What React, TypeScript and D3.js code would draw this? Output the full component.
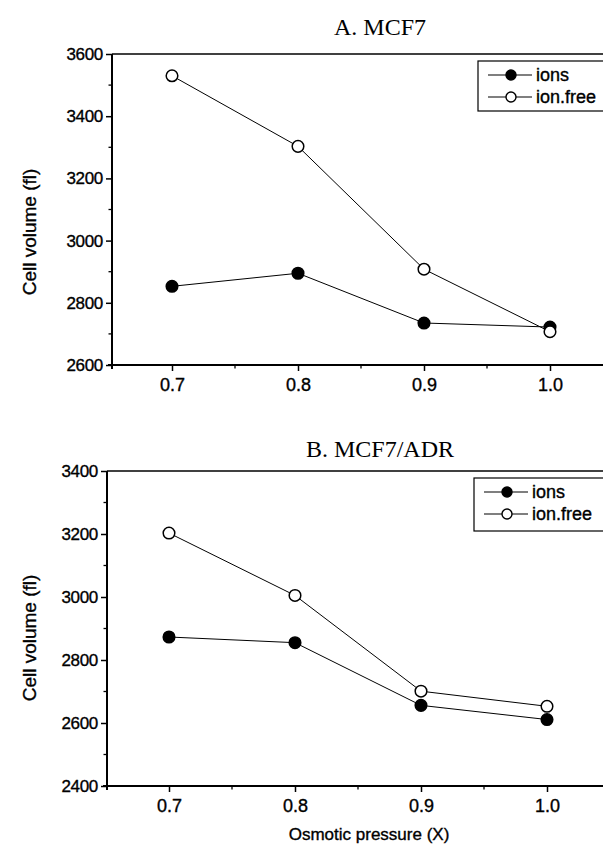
import React, { useRef, useEffect } from 'react'
import * as d3 from 'd3'

// values
const osmotic = [0.7, 0.8, 0.9, 1.0]
const xTicks = [0.7, 0.8, 0.9, 1.0]
const xMinor = [0.65, 0.75, 0.85, 0.95, 1.05]

const mcf7Ions = [2853, 2895, 2735, 2722]
const mcf7IonFree = [3530, 3303, 2908, 2707]
const mcf7YTicks = [2600, 2800, 3000, 3200, 3400, 3600]

const adrIons = [2873, 2855, 2656, 2611]
const adrIonFree = [3203, 3005, 2701, 2653]
const adrYTicks = [2400, 2600, 2800, 3000, 3200, 3400]

const seriesNames = ['ions', 'ion.free']

const W = 603
const H = 849
const sans = '"Liberation Sans", Arial, sans-serif'
const serif = '"Liberation Serif", "Times New Roman", serif'

type PanelCfg = {
  title: string
  ions: number[]
  ionFree: number[]
  yTicks: number[]
  left: number
  top: number
  bottom: number
  x07: number
  x10: number
  titleY: number
  ylabelY: number
  legend: { x: number; y: number; h: number }
  xLabel: boolean
}

const panels: PanelCfg[] = [
  {
    title: 'A. MCF7', ions: mcf7Ions, ionFree: mcf7IonFree, yTicks: mcf7YTicks,
    left: 112, top: 54, bottom: 365, x07: 172, x10: 550, titleY: 35, ylabelY: 232,
    legend: { x: 478, y: 61, h: 50 }, xLabel: false,
  },
  {
    title: 'B. MCF7/ADR', ions: adrIons, ionFree: adrIonFree, yTicks: adrYTicks,
    left: 107, top: 471, bottom: 786, x07: 169, x10: 547, titleY: 457, ylabelY: 638,
    legend: { x: 474, y: 478, h: 53 }, xLabel: true,
  },
]

// scanned text looks heavy: add a thin outline
const heavy = (sel: d3.Selection<any, any, any, any>) =>
  sel.attr('fill', '#000').attr('stroke', '#000').attr('stroke-width', 0.35)

const drawPanel = (svg: d3.Selection<SVGSVGElement, unknown, null, undefined>, p: PanelCfg) => {
  const g = svg.append('g')
  const x = d3.scaleLinear().domain([0.7, 1.0]).range([p.x07, p.x10])
  const yMin = p.yTicks[0]
  const yMax = p.yTicks[p.yTicks.length - 1]
  const y = d3.scaleLinear().domain([yMin, yMax]).range([p.bottom, p.top])
  const right = W + 20

  // frame top
  g.append('line').attr('x1', p.left).attr('x2', right).attr('y1', p.top).attr('y2', p.top)
    .attr('stroke', '#000').attr('stroke-width', 1.4)

  // x axis
  const xAxis = d3.axisBottom(x).tickValues(xTicks).tickSize(6).tickFormat(d3.format('.1f'))
  const xg = g.append('g').attr('transform', `translate(0,${p.bottom})`).call(xAxis)
  xg.select('.domain').remove()
  xg.selectAll('line').attr('stroke-width', 1.5)
  heavy(xg.selectAll('text').attr('font-family', sans).attr('font-size', 18).attr('dy', '0.95em'))
  g.append('g').attr('transform', `translate(0,${p.bottom})`)
    .selectAll('line').data(xMinor.filter(v => x(v) > p.left && x(v) < W)).enter().append('line')
    .attr('x1', d => x(d)).attr('x2', d => x(d)).attr('y1', 0).attr('y2', 3.5)
    .attr('stroke', '#000').attr('stroke-width', 1.3)
  g.append('line').attr('x1', p.left - 4).attr('x2', right).attr('y1', p.bottom).attr('y2', p.bottom)
    .attr('stroke', '#000').attr('stroke-width', 2)

  // y axis
  const yAxis = d3.axisLeft(y).tickValues(p.yTicks).tickSize(6).tickFormat(d3.format('d'))
  const yg = g.append('g').attr('transform', `translate(${p.left},0)`).call(yAxis)
  yg.select('.domain').remove()
  yg.selectAll('line').attr('stroke-width', 1.5)
  heavy(yg.selectAll('text').attr('font-family', sans).attr('font-size', 17).attr('x', -9)
    .attr('letter-spacing', -0.3))
  const minorY = d3.range(yMin + 100, yMax, 200)
  g.append('g').selectAll('line').data(minorY).enter().append('line')
    .attr('x1', p.left - 3.5).attr('x2', p.left).attr('y1', d => y(d)).attr('y2', d => y(d))
    .attr('stroke', '#000').attr('stroke-width', 1.3)
  g.append('line').attr('x1', p.left).attr('x2', p.left).attr('y1', p.top).attr('y2', p.bottom + 4)
    .attr('stroke', '#000').attr('stroke-width', 2)

  // title
  g.append('text').attr('x', 380).attr('y', p.titleY).attr('text-anchor', 'middle')
    .attr('font-family', serif).attr('font-size', 24).attr('fill', '#000').text(p.title)

  // y label
  heavy(g.append('text').attr('transform', `translate(36,${p.ylabelY}) rotate(-90)`)
    .attr('text-anchor', 'middle').attr('font-family', sans).attr('font-size', 19)
    .text('Cell volume (fl)'))

  if (p.xLabel) {
    heavy(g.append('text').attr('x', 369).attr('y', 840).attr('text-anchor', 'middle')
      .attr('font-family', sans).attr('font-size', 17).text('Osmotic pressure (X)'))
  }

  // series
  const line = d3.line<number>().x((_, i) => x(osmotic[i])).y(d => y(d)).curve(d3.curveLinear)
  const series = [p.ions, p.ionFree]
  series.forEach(vals => {
    g.append('path').datum(vals).attr('fill', 'none').attr('stroke', '#000').attr('stroke-width', 1)
      .attr('d', line)
  })
  series.forEach((vals, si) => {
    g.append('g').selectAll('circle').data(vals).enter().append('circle')
      .attr('cx', (_, i) => x(osmotic[i])).attr('cy', d => y(d)).attr('r', 5.8)
      .attr('fill', si === 0 ? '#000' : '#fff').attr('stroke', '#000').attr('stroke-width', 1.5)
  })

  // legend
  const L = p.legend
  g.append('rect').attr('x', L.x).attr('y', L.y).attr('width', 200).attr('height', L.h)
    .attr('fill', '#fff').attr('stroke', '#000').attr('stroke-width', 1.2)
  seriesNames.forEach((name, i) => {
    const ry = L.y + 14 + i * 22
    const lx = L.x + 10
    g.append('line').attr('x1', lx).attr('x2', lx + 44).attr('y1', ry).attr('y2', ry)
      .attr('stroke', '#000').attr('stroke-width', 1.2)
    g.append('circle').attr('cx', lx + 23).attr('cy', ry).attr('r', 5)
      .attr('fill', i === 0 ? '#000' : '#fff').attr('stroke', '#000').attr('stroke-width', 1.4)
    heavy(g.append('text').attr('x', lx + 48).attr('y', ry).attr('dy', '0.35em')
      .attr('font-family', sans).attr('font-size', 18).text(name))
  })
}

const App = () => {
  const svgRef = useRef<SVGSVGElement>(null)

  useEffect(() => {
    const svg = d3.select(svgRef.current as SVGSVGElement)
    svg.selectAll('*').remove()
    svg.append('rect').attr('width', W).attr('height', H).attr('fill', '#fff')
    panels.forEach(p => drawPanel(svg, p))
  }, [])

  return (
    <svg ref={svgRef} width={W} height={H}
      style={{ position: 'absolute', left: 0, top: 0, display: 'block', background: '#fff' }} />
  )
}

export default App
